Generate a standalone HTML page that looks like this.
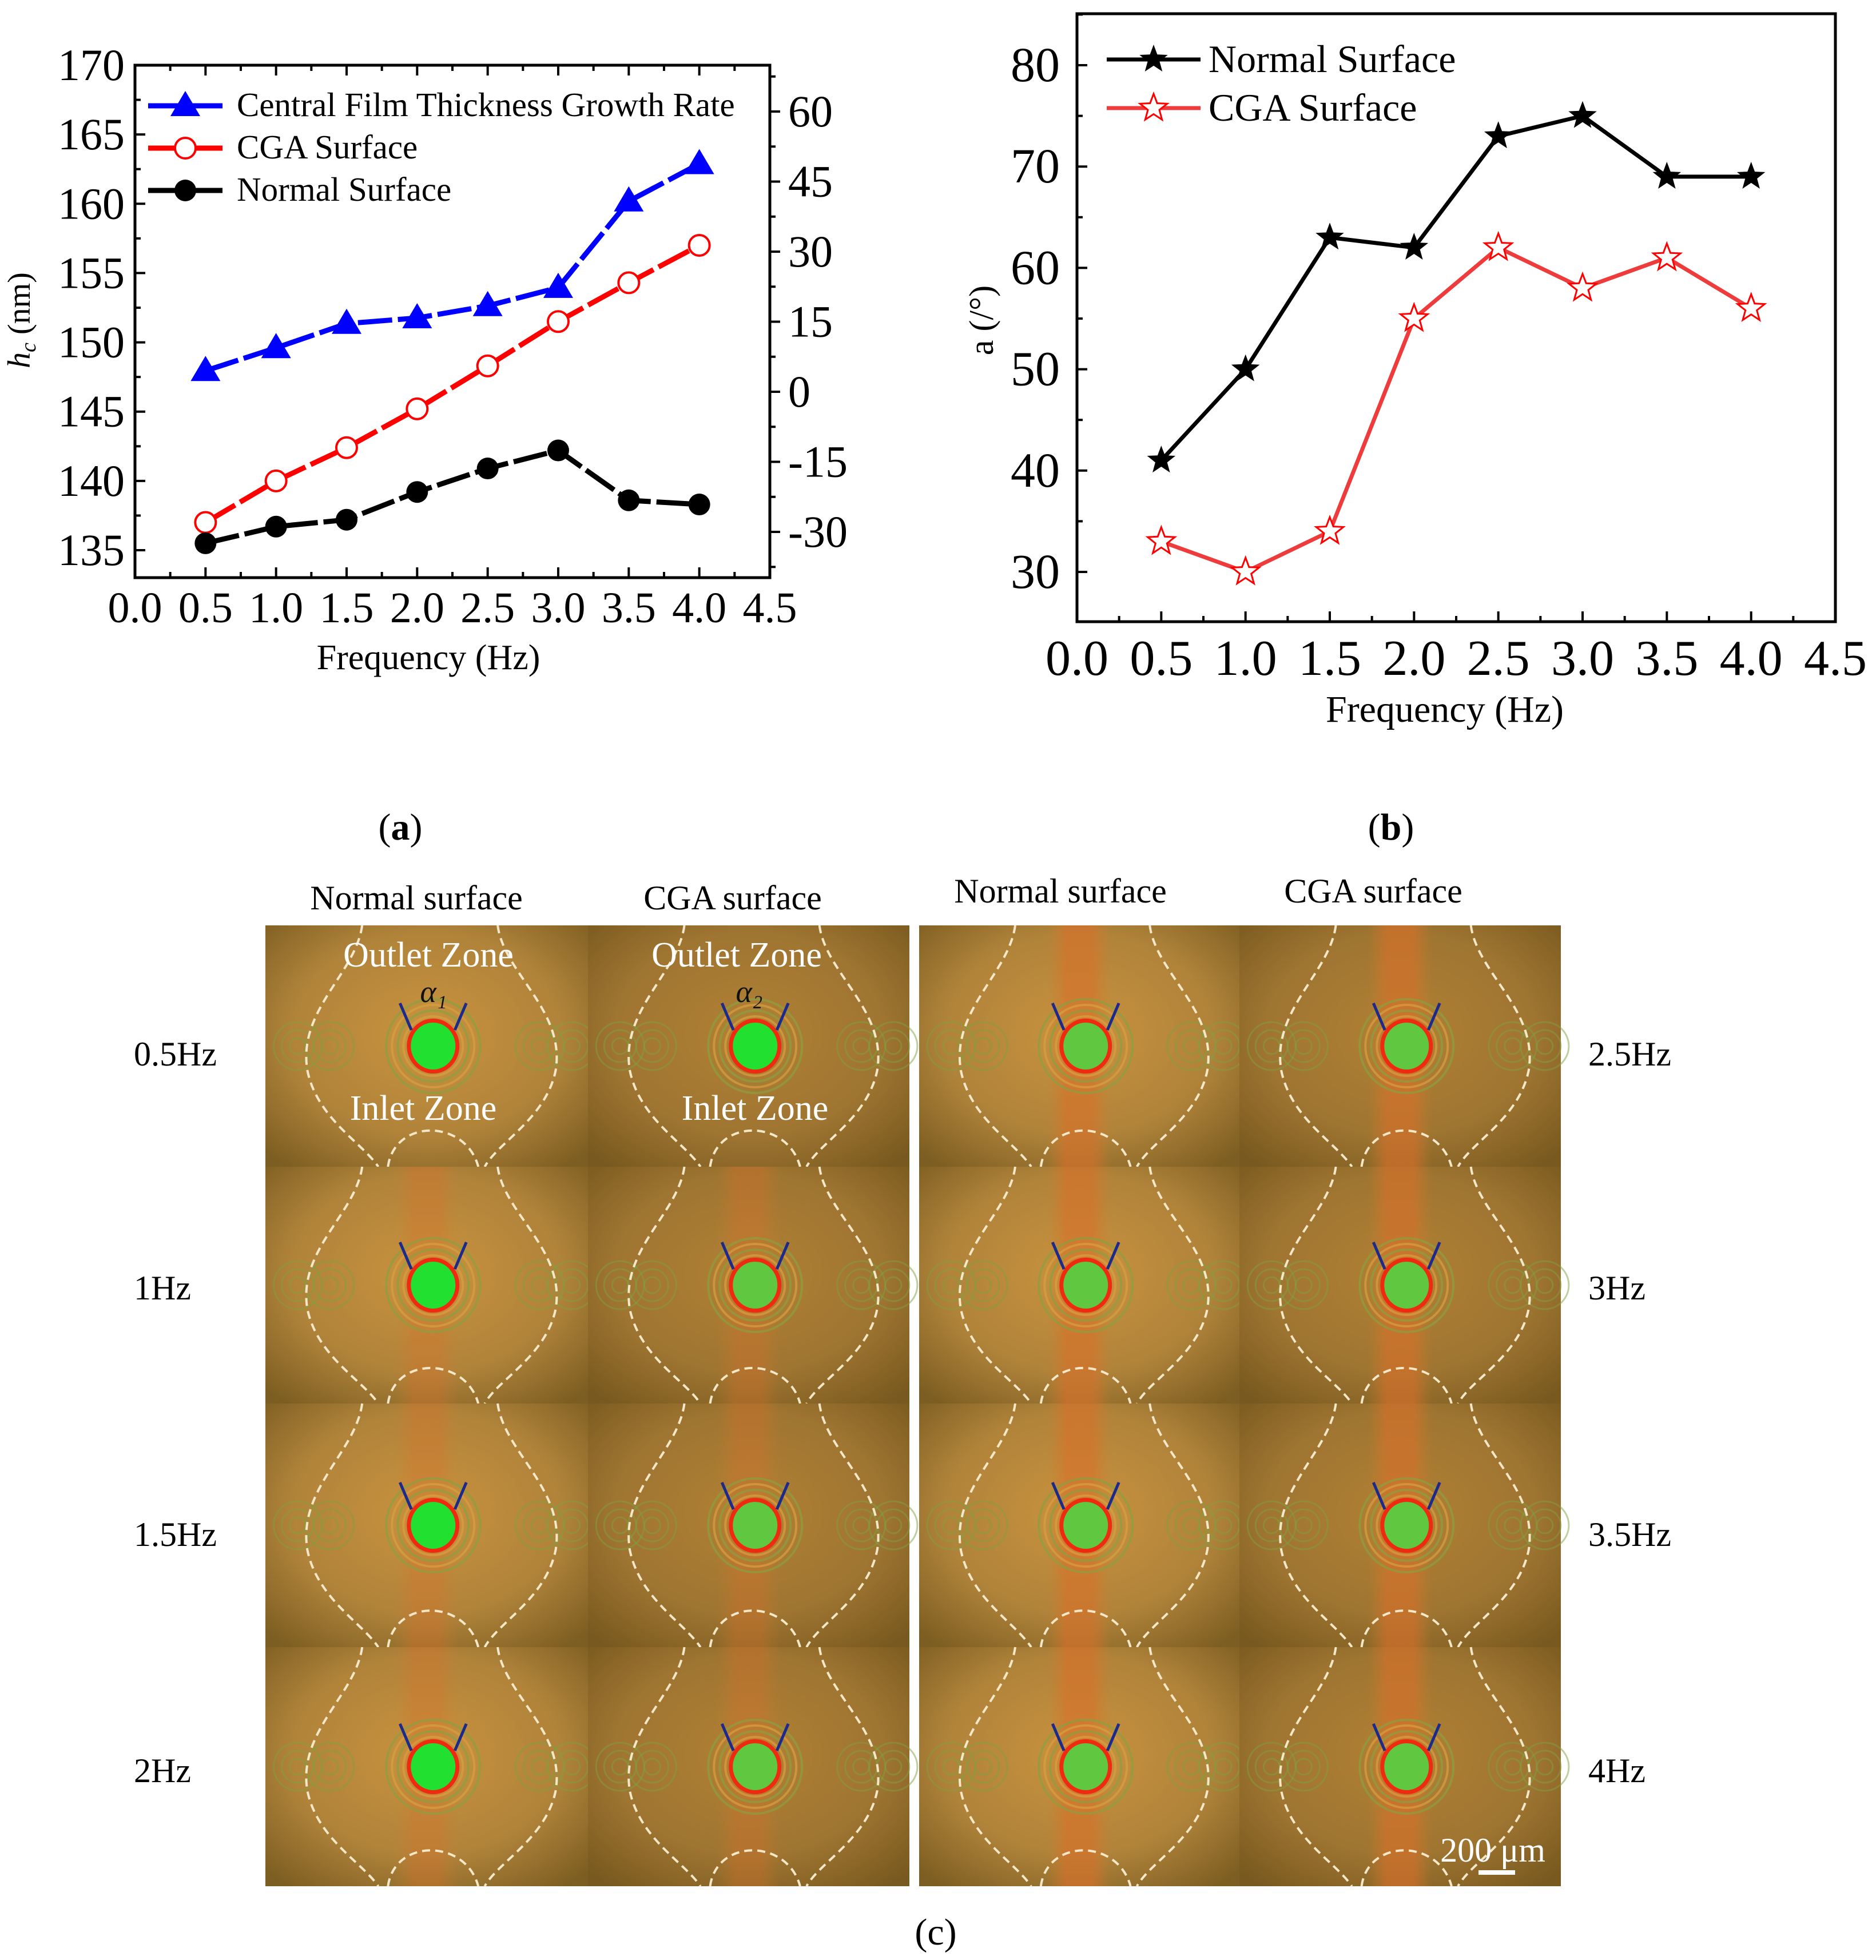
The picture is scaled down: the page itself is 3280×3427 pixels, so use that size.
<!DOCTYPE html>
<html><head><meta charset="utf-8">
<style>
html,body{margin:0;padding:0;background:#fff;}
svg{display:block;}
text{font-family:"Liberation Serif",serif;}
</style></head>
<body>
<svg id="root" width="3280" height="3427" viewBox="0 0 3280 3427" xmlns="http://www.w3.org/2000/svg">
<defs>
<radialGradient id="tileBg" cx="50%" cy="45%" r="70%">
<stop offset="0" stop-color="#c9933e"/><stop offset="0.6" stop-color="#b0833a"/><stop offset="1" stop-color="#7d5e22"/>
</radialGradient>
<linearGradient id="bandG" x1="0" x2="1">
<stop offset="0" stop-color="#d27a2c" stop-opacity="0"/><stop offset="0.3" stop-color="#d8702a" stop-opacity="0.7"/><stop offset="0.7" stop-color="#d8702a" stop-opacity="0.7"/><stop offset="1" stop-color="#d27a2c" stop-opacity="0"/>
</linearGradient>
</defs>
<g id="chartA"></g>
<g id="chartB"></g>
<g id="photos"></g>
<text x="700" y="1468" font-size="66" text-anchor="middle">(<tspan font-weight="bold">a</tspan>)</text>
<text x="2432" y="1468" font-size="66" text-anchor="middle">(<tspan font-weight="bold">b</tspan>)</text>
<text x="1636" y="3400" font-size="66" text-anchor="middle">(c)</text>
</svg>
<script>
// ---------- Chart A data ----------
const freqA = [0.5,1.0,1.5,2.0,2.5,3.0,3.5,4.0];
const normalA = [135.5,136.7,137.2,139.2,140.9,142.2,138.6,138.3];
const cgaA = [137.0,140.0,142.4,145.2,148.3,151.5,154.3,157.0];
const growthA = [4.5,9.4,14.6,15.8,18.4,22.3,40.8,48.8];
const xTicksA = [0.0,0.5,1.0,1.5,2.0,2.5,3.0,3.5,4.0,4.5];
const yTicksA = [135,140,145,150,155,160,165,170];
const y2TicksA = [-30,-15,0,15,30,45,60];
// ---------- Chart B data ----------
const freqB = [0.5,1.0,1.5,2.0,2.5,3.0,3.5,4.0];
const normalB = [41,50,63,62,73,75,69,69];
const cgaB = [33,30,34,55,62,58,61,56];
const xTicksB = [0.0,0.5,1.0,1.5,2.0,2.5,3.0,3.5,4.0,4.5];
const yTicksB = [30,40,50,60,70,80];

const NS="http://www.w3.org/2000/svg";
function mk(parent,tag,attrs){const e=document.createElementNS(NS,tag);for(const k in attrs)e.setAttribute(k,attrs[k]);parent.appendChild(e);return e;}
function fmt1(v){return v.toFixed(1);}
function starPts(cx,cy,R){const r=R*0.42;let p=[];for(let i=0;i<10;i++){const a=-Math.PI/2+i*Math.PI/5;const rr=i%2?r:R;p.push((cx+rr*Math.cos(a)).toFixed(1)+","+(cy+rr*Math.sin(a)).toFixed(1));}return p.join(" ");}

// ===== Chart A =====
(function(){
const g=document.getElementById('chartA');
const L=236,R=1346,T=114,B=1010;
const xs=v=>L+v*(R-L)/4.5;
const ys=v=>114+(170-v)*(962-114)/35;
const y2=v=>195+(60-v)*(930-195)/90;
let e;
e=mk(g,'rect',{x:L,y:T,width:R-L,height:B-T,fill:'none',stroke:'#000','stroke-width':5});

for(let v=132.5;v<=170;v+=2.5){const y=ys(v);if(y>B)continue;const major=(v%5===0);mk(g,'line',{x1:L,x2:L+(major?18:10),y1:y,y2:y,stroke:'#000','stroke-width':4});}
for(let v=-37.5;v<=67.5;v+=7.5){const y=y2(v);if(y<T||y>B)continue;const major=(Math.abs(v%15)<0.01);mk(g,'line',{x1:R,x2:R+(major?18:10),y1:y,y2:y,stroke:'#000','stroke-width':4});}
for(let v=0.25;v<4.5;v+=0.25){const x=xs(v);const major=Math.abs((v*2)%1)<0.01;mk(g,'line',{x1:x,x2:x,y1:B,y2:B-(major?18:10),stroke:'#000','stroke-width':4});mk(g,'line',{x1:x,x2:x,y1:T,y2:T+(major?18:10),stroke:'#000','stroke-width':4});}
yTicksA.forEach(v=>{e=mk(g,'text',{x:218,y:ys(v)+26,'font-size':78,'text-anchor':'end'});e.textContent=v;
});
y2TicksA.forEach(v=>{e=mk(g,'text',{x:1378,y:y2(v)+26,'font-size':78});e.textContent=v;
});
xTicksA.forEach(v=>{e=mk(g,'text',{x:xs(v),y:1088,'font-size':76,'text-anchor':'middle'});e.textContent=fmt1(v);
});
e=mk(g,'text',{x:749,y:1170,'font-size':62,'text-anchor':'middle'});e.textContent='Frequency (Hz)';

e=mk(g,'text',{x:0,y:0,'font-size':56,'text-anchor':'middle',transform:'translate(52,560) rotate(-90)'});
e.innerHTML='<tspan font-style="italic">h</tspan><tspan font-style="italic" font-size="38" dy="10">c</tspan><tspan dy="-10"> (nm)</tspan>';

function series(vals,scale,color,name){const pts=freqA.map((f,i)=>xs(f)+','+scale(vals[i])).join(' ');
 const pl=mk(g,'polyline',{points:pts,fill:'none',stroke:color,'stroke-width':9,'stroke-dasharray':'60,10'});
 }
series(growthA,y2,'#0000ff','growth-rate');
series(cgaA,ys,'#ff0000','cga');
series(normalA,ys,'#000','normal');
freqA.forEach((f,i)=>{const x=xs(f),y=y2(growthA[i]);
 const m=mk(g,'polygon',{points:`${x},${y-26} ${x-26},${y+18} ${x+26},${y+18}`,fill:'#0000ff'});
 });
freqA.forEach((f,i)=>{const m=mk(g,'circle',{cx:xs(f),cy:ys(cgaA[i]),r:18,fill:'#fff',stroke:'#ff0000','stroke-width':4});
 });
freqA.forEach((f,i)=>{const m=mk(g,'circle',{cx:xs(f),cy:ys(normalA[i]),r:19,fill:'#000'});
 });
const leg=[['Central Film Thickness Growth Rate','#0000ff','tri',185],['CGA Surface','#ff0000','circ',259],['Normal Surface','#000','dot',333]];
leg.forEach(l=>{const lg=mk(g,'g',{});
 mk(lg,'line',{x1:259,x2:389,y1:l[3],y2:l[3],stroke:l[1],'stroke-width':9});
 const cx=324,cy=l[3];
 if(l[2]==='tri')mk(lg,'polygon',{points:`${cx},${cy-26} ${cx-26},${cy+18} ${cx+26},${cy+18}`,fill:l[1]});
 else if(l[2]==='circ')mk(lg,'circle',{cx:cx,cy:cy,r:18,fill:'#fff',stroke:l[1],'stroke-width':4});
 else mk(lg,'circle',{cx:cx,cy:cy,r:19,fill:'#000'});
 const t=mk(lg,'text',{x:414,y:cy+18,'font-size':59});t.textContent=l[0];});
})();

// ===== Chart B =====
(function(){
const g=document.getElementById('chartB');
const L=1883,R=3209,T=24,B=1087;
const xs=v=>L+v*(R-L)/4.5;
const ys=v=>114+(80-v)*(1000-114)/50;
let e;
e=mk(g,'rect',{x:L,y:T,width:R-L,height:B-T,fill:'none',stroke:'#000','stroke-width':5});

for(let v=25;v<=85;v+=5){const y=ys(v);if(y<T||y>B)continue;const major=v%10===0;mk(g,'line',{x1:L,x2:L+(major?18:10),y1:y,y2:y,stroke:'#000','stroke-width':4});}
for(let v=0.25;v<4.5;v+=0.25){const x=xs(v);const major=Math.abs((v*2)%1)<0.01;mk(g,'line',{x1:x,x2:x,y1:B,y2:B-(major?18:10),stroke:'#000','stroke-width':4});}
yTicksB.forEach(v=>{e=mk(g,'text',{x:1853,y:ys(v)+28,'font-size':86,'text-anchor':'end'});e.textContent=v;
});
xTicksB.forEach(v=>{e=mk(g,'text',{x:xs(v),y:1180,'font-size':88,'text-anchor':'middle'});e.textContent=fmt1(v);
});
e=mk(g,'text',{x:2526,y:1262,'font-size':66,'text-anchor':'middle'});e.textContent='Frequency (Hz)';

e=mk(g,'text',{x:0,y:0,'font-size':60,'text-anchor':'middle',transform:'translate(1736,560) rotate(-90)'});e.textContent='a (/°)';

function line(vals,color,name){const pts=freqB.map((f,i)=>xs(f)+','+ys(vals[i])).join(' ');
 const pl=mk(g,'polyline',{points:pts,fill:'none',stroke:color,'stroke-width':7});
 }
line(normalB,'#000','normal');line(cgaB,'#ee3b3b','cga');
freqB.forEach((f,i)=>{const m=mk(g,'polygon',{points:starPts(xs(f),ys(normalB[i]),26),fill:'#000'});
 });
freqB.forEach((f,i)=>{const m=mk(g,'polygon',{points:starPts(xs(f),ys(cgaB[i]),25),fill:'#fff',stroke:'#ff0000','stroke-width':3});
 });
[['Normal Surface','#000',104,true],['CGA Surface','#ee3b3b',189,false]].forEach(l=>{
 const lg=mk(g,'g',{});
 mk(lg,'line',{x1:1935,x2:2099,y1:l[2],y2:l[2],stroke:l[1],'stroke-width':7});
 if(l[3])mk(lg,'polygon',{points:starPts(2017,l[2],26),fill:'#000'});
 else mk(lg,'polygon',{points:starPts(2017,l[2],25),fill:'#fff',stroke:'#ff0000','stroke-width':3});
 const t=mk(lg,'text',{x:2113,y:l[2]+22,'font-size':68});t.textContent=l[0];});
})();

// ===== Photo grid =====
(function(){
const g=document.getElementById('photos');
const cols=[[464,1028],[1028,1590],[1607,2167],[2167,2729]];
const rows=[[1618,2040],[2040,2454],[2454,2880],[2880,3298]];
cols.forEach((c,ci)=>rows.forEach((r,ri)=>{
 const x=c[0],y=r[0],w=c[1]-c[0],h=r[1]-r[0];
 const t=mk(g,'g',{transform:`translate(${x},${y})`});
 
 mk(t,'rect',{x:0,y:0,width:w,height:h,fill:'url(#tileBg)'});
 if(ci%2===1) mk(t,'rect',{x:0,y:0,width:w,height:h,fill:'#6b4a16',opacity:0.25});
 if(ci>=2||ri>0) mk(t,'rect',{x:w*0.4,y:0,width:w*0.2,height:h,fill:'url(#bandG)',opacity:ci>=2?0.9:0.5});
 const cx=w*0.52,cy=h*0.5;
 [0.1,0.2,0.85,0.95].forEach(fx=>{for(let k=1;k<4;k++)mk(t,'circle',{cx:w*fx,cy:cy,r:k*14,fill:'none',stroke:'#7fa040','stroke-width':3,opacity:0.5});});
 const d=`M${w*0.3},0 C${w*0.28},${h*0.2} ${w*0.1},${h*0.35} ${w*0.13},${h*0.6} C${w*0.16},${h*0.8} ${w*0.3},${h*0.9} ${w*0.35},${h} M${w*0.72},0 C${w*0.74},${h*0.2} ${w*0.93},${h*0.35} ${w*0.9},${h*0.6} C${w*0.87},${h*0.8} ${w*0.72},${h*0.9} ${w*0.68},${h} M${w*0.38},${h} C${w*0.4},${h*0.8} ${w*0.62},${h*0.8} ${w*0.66},${h}`;
 mk(t,'path',{d:d,fill:'none',stroke:'#f5e8c8','stroke-width':4,'stroke-dasharray':'14,9'});
 for(let k=1;k<5;k++)mk(t,'circle',{cx:cx,cy:cy,r:42+k*10,fill:'none',stroke:k%2?'#d9a040':'#8aa040','stroke-width':4,opacity:0.7});
 mk(t,'ellipse',{cx:cx,cy:cy,rx:46,ry:48,fill:'#ee2a10'});
 mk(t,'ellipse',{cx:cx,cy:cy,rx:39,ry:41,fill:ci%2===1&&ri>0||ci>=2?'#5fc840':'#22e030'});
 mk(t,'path',{d:`M${cx-58},${cy-75} L${cx-38},${cy-28} M${cx+58},${cy-75} L${cx+38},${cy-28}`,stroke:'#1d2a8a','stroke-width':5,fill:'none'});
}));
function txt(x,y,s,str,fill,anchor,name,italic){const e=mk(g,'text',{x:x,y:y,'font-size':s,fill:fill,'text-anchor':anchor||'middle'});if(italic)e.setAttribute('font-style','italic');e.textContent=str;
 return e;}
txt(749,1690,62,'Outlet Zone','#fff','middle','outlet-zone-label');
txt(1288,1690,62,'Outlet Zone','#fff','middle','outlet-zone-label');
txt(740,1958,62,'Inlet Zone','#fff','middle','inlet-zone-label');
txt(1320,1958,62,'Inlet Zone','#fff','middle','inlet-zone-label');
txt(758,1752,54,'α₁','#111','middle','alpha-1-label',true);
txt(1310,1752,54,'α₂','#111','middle','alpha-2-label',true);
txt(2610,3255,60,'200 μm','#fff','middle','scale-bar-label');
const sb=mk(g,'rect',{x:2585,y:3270,width:64,height:8,fill:'#fff'});
txt(728,1590,60,'Normal  surface','#000','middle','column-header');
txt(1281,1590,60,'CGA surface','#000','middle','column-header');
txt(1854,1578,60,'Normal  surface','#000','middle','column-header');
txt(2401,1578,60,'CGA surface','#000','middle','column-header');
const lefts=['0.5Hz','1Hz','1.5Hz','2Hz'],rights=['2.5Hz','3Hz','3.5Hz','4Hz'],ry=[1863,2272,2703,3116];
lefts.forEach((s,i)=>txt(234,ry[i],60,s,'#000','start','row-label'));
rights.forEach((s,i)=>txt(2777,ry[i],60,s,'#000','start','row-label'));
})();
</script>
</body></html>
